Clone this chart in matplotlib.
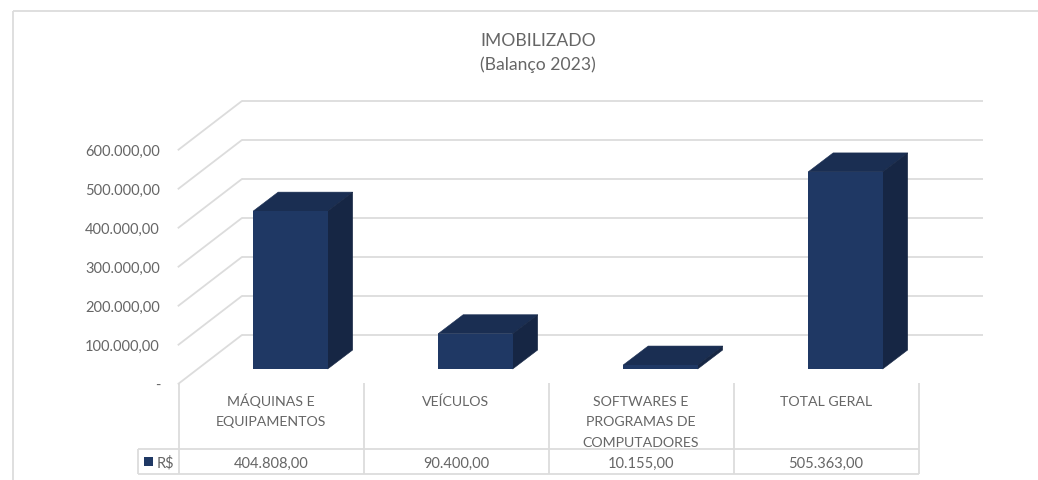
"""Imobilizado chart, balance sheet 2023, drawn as a fake 3D column chart."""
import matplotlib
matplotlib.use("Agg")
import matplotlib.pyplot as plt

categories = ["MÁQUINAS E\nEQUIPAMENTOS", "VEÍCULOS", "SOFTWARES E\nPROGRAMAS DE\nCOMPUTADORES", "TOTAL GERAL"]
values = [404808, 90400, 10155, 505363]
value_labels = ["404.808,00", "90.400,00", "10.155,00", "505.363,00"]
tick_values = [0, 100000, 200000, 300000, 400000, 500000, 600000]
tick_labels = ["-", "100.000,00", "200.000,00", "300.000,00", "400.000,00", "500.000,00", "600.000,00"]
series_name = "R$"
title = "IMOBILIZADO\n(Balanço 2023)"

W, H = 1038, 481
FRONT = "#1f3864"
TOP = "#1a2e52"
SIDE = "#162644"
GRID = "#dcdcdc"
TEXT = "#666666"

# pixels per value unit / per category on the front plane of the bars
PX_PER_VALUE = 39 / 100000
PX_PER_CAT = 185
BASE_Y = 370
FIRST_X = 290.4
BAR_W = 74.5 / PX_PER_CAT
DEPTH_X = 25 / PX_PER_CAT
DEPTH_Y = 19 / PX_PER_VALUE

plt.rcParams["font.family"] = ["Lato", "DejaVu Sans"]
fig = plt.figure(figsize=(W / 100, H / 100), dpi=100, facecolor="white")

# overlay in pixels for frame, gridlines, table and labels, sits under the bars
px = fig.add_axes([0, 0, 1, 1], zorder=1)
px.set_xlim(0, W)
px.set_ylim(H, 0)
px.axis("off")

# x in category index, y in reais, lined up with the pixels of the picture
ax = fig.add_axes([0, 0, 1, 1], zorder=2)
ax.set_xlim(-FIRST_X / PX_PER_CAT, (W - FIRST_X) / PX_PER_CAT)
ax.set_ylim((BASE_Y - H) / PX_PER_VALUE, BASE_Y / PX_PER_VALUE)
ax.axis("off")


def hline(x0, x1, y, lw=1.3):
    px.plot([x0, x1], [y, y], color=GRID, lw=lw, solid_capstyle="butt")


def vline(x, y0, y1, lw=1.3):
    px.plot([x, x], [y0, y1], color=GRID, lw=lw, solid_capstyle="butt")


def lines_of_text(x, y, text, step, size):
    # one text per line, matplotlib's linespacing depends on the descenders
    for n, line in enumerate(text.split("\n")):
        px.text(x, y + n * step, line, ha="center", va="baseline", fontsize=size, color=TEXT)


# outer frame, open at the right and bottom
hline(12.7, W, 11.7)
vline(12.7, 11.7, H)

# gridlines: back wall plus the diagonal on the left wall
for v, label in zip(tick_values, tick_labels):
    back_y = 336.3 - v * PX_PER_VALUE
    front_y = 384.7 - v * PX_PER_VALUE
    hline(241.5, 982.7, back_y)
    px.plot([178.5, 241.5], [front_y, back_y], color=GRID, lw=1.3)
    px.text(160, front_y + 5.5, label, ha="right", va="baseline", fontsize=10.5, color=TEXT)

# bars
for i, v in enumerate(values):
    x0 = i - BAR_W / 2
    x1 = i + BAR_W / 2
    ax.fill([x0, x1, x1 + DEPTH_X, x0 + DEPTH_X],
            [v, v, v + DEPTH_Y, v + DEPTH_Y], color=TOP, lw=0.4, zorder=3)
    ax.fill([x1, x1 + DEPTH_X, x1 + DEPTH_X, x1],
            [0, DEPTH_Y, v + DEPTH_Y, v], color=SIDE, lw=0.4, zorder=3)
    ax.bar(i, v, width=BAR_W, color=FRONT, zorder=4)

# data table under the chart
hline(138, 919.3, 450)
hline(138, 919.3, 475)
vline(138, 450, 475)
for i in range(len(categories) + 1):
    vline(179.3 + i * PX_PER_CAT, 384, 475)
for i, (cat, lab) in enumerate(zip(categories, value_labels)):
    cx = FIRST_X + i * PX_PER_CAT - 19.5
    lines_of_text(cx, 406, cat, 20.4, 10.2)
    px.text(cx, 467.5, lab, ha="center", va="baseline", fontsize=10.5, color=TEXT)
px.fill([144.3, 153, 153, 144.3], [458, 458, 467, 467], color=FRONT, lw=0)
px.text(157, 467.5, series_name, ha="left", va="baseline", fontsize=10.5, color=TEXT)

lines_of_text(538, 45.5, title, 24.7, 12.6)

fig.savefig("out.png", dpi=100, facecolor="white")
